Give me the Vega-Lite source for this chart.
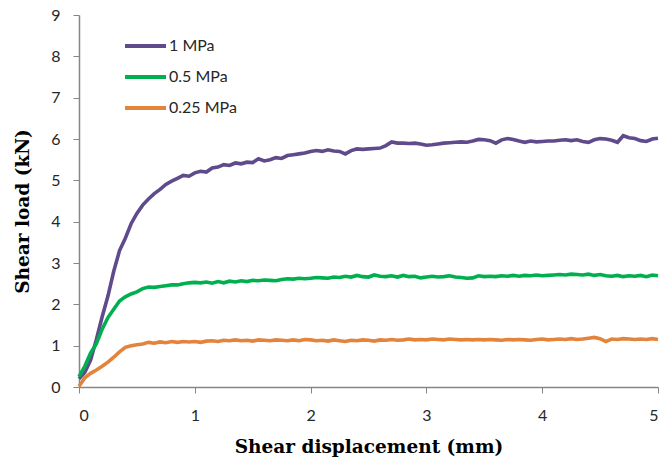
{
  "$schema": "https://vega.github.io/schema/vega-lite/v6.json",
  "width": 579,
  "height": 372,
  "autosize": {"type": "none"},
  "padding": {"left": 79, "top": 15, "right": 3, "bottom": 70},
  "background": "white",
  "config": {"view": {"stroke": null}},
  "data": {
    "values": [
      {"d": 0.0, "1 MPa": 0.2, "0.5 MPa": 0.25, "0.25 MPa": 0.02},
      {"d": 0.05, "1 MPa": 0.35, "0.5 MPa": 0.5, "0.25 MPa": 0.22},
      {"d": 0.1, "1 MPa": 0.65, "0.5 MPa": 0.82, "0.25 MPa": 0.33},
      {"d": 0.15, "1 MPa": 1.15, "0.5 MPa": 1.05, "0.25 MPa": 0.41},
      {"d": 0.2, "1 MPa": 1.7, "0.5 MPa": 1.4, "0.25 MPa": 0.5},
      {"d": 0.25, "1 MPa": 2.2, "0.5 MPa": 1.68, "0.25 MPa": 0.6},
      {"d": 0.3, "1 MPa": 2.8, "0.5 MPa": 1.88, "0.25 MPa": 0.72},
      {"d": 0.35, "1 MPa": 3.3, "0.5 MPa": 2.08, "0.25 MPa": 0.85},
      {"d": 0.4, "1 MPa": 3.6, "0.5 MPa": 2.18, "0.25 MPa": 0.96},
      {"d": 0.45, "1 MPa": 3.95, "0.5 MPa": 2.25, "0.25 MPa": 1.0},
      {"d": 0.5, "1 MPa": 4.2, "0.5 MPa": 2.3, "0.25 MPa": 1.02},
      {"d": 0.55, "1 MPa": 4.4, "0.5 MPa": 2.38, "0.25 MPa": 1.04},
      {"d": 0.6, "1 MPa": 4.55, "0.5 MPa": 2.42, "0.25 MPa": 1.08},
      {"d": 0.65, "1 MPa": 4.68, "0.5 MPa": 2.41, "0.25 MPa": 1.06},
      {"d": 0.7, "1 MPa": 4.78, "0.5 MPa": 2.43, "0.25 MPa": 1.09},
      {"d": 0.75, "1 MPa": 4.9, "0.5 MPa": 2.45, "0.25 MPa": 1.07},
      {"d": 0.8, "1 MPa": 4.98, "0.5 MPa": 2.47, "0.25 MPa": 1.1},
      {"d": 0.85, "1 MPa": 5.05, "0.5 MPa": 2.47, "0.25 MPa": 1.08},
      {"d": 0.9, "1 MPa": 5.12, "0.5 MPa": 2.5, "0.25 MPa": 1.1},
      {"d": 0.95, "1 MPa": 5.1, "0.5 MPa": 2.52, "0.25 MPa": 1.09},
      {"d": 1.0, "1 MPa": 5.18, "0.5 MPa": 2.53, "0.25 MPa": 1.1},
      {"d": 1.05, "1 MPa": 5.22, "0.5 MPa": 2.52, "0.25 MPa": 1.08},
      {"d": 1.1, "1 MPa": 5.2, "0.5 MPa": 2.54, "0.25 MPa": 1.11},
      {"d": 1.15, "1 MPa": 5.3, "0.5 MPa": 2.51, "0.25 MPa": 1.12},
      {"d": 1.2, "1 MPa": 5.32, "0.5 MPa": 2.55, "0.25 MPa": 1.1},
      {"d": 1.25, "1 MPa": 5.38, "0.5 MPa": 2.52, "0.25 MPa": 1.13},
      {"d": 1.3, "1 MPa": 5.36, "0.5 MPa": 2.56, "0.25 MPa": 1.12},
      {"d": 1.35, "1 MPa": 5.42, "0.5 MPa": 2.54, "0.25 MPa": 1.14},
      {"d": 1.4, "1 MPa": 5.4, "0.5 MPa": 2.57, "0.25 MPa": 1.12},
      {"d": 1.45, "1 MPa": 5.44, "0.5 MPa": 2.55, "0.25 MPa": 1.13},
      {"d": 1.5, "1 MPa": 5.43, "0.5 MPa": 2.58, "0.25 MPa": 1.11},
      {"d": 1.55, "1 MPa": 5.52, "0.5 MPa": 2.57, "0.25 MPa": 1.14},
      {"d": 1.6, "1 MPa": 5.47, "0.5 MPa": 2.59, "0.25 MPa": 1.13},
      {"d": 1.65, "1 MPa": 5.5, "0.5 MPa": 2.58, "0.25 MPa": 1.12},
      {"d": 1.7, "1 MPa": 5.55, "0.5 MPa": 2.57, "0.25 MPa": 1.14},
      {"d": 1.75, "1 MPa": 5.53, "0.5 MPa": 2.6, "0.25 MPa": 1.13},
      {"d": 1.8, "1 MPa": 5.6, "0.5 MPa": 2.62, "0.25 MPa": 1.12},
      {"d": 1.85, "1 MPa": 5.62, "0.5 MPa": 2.61, "0.25 MPa": 1.14},
      {"d": 1.9, "1 MPa": 5.64, "0.5 MPa": 2.63, "0.25 MPa": 1.12},
      {"d": 1.95, "1 MPa": 5.66, "0.5 MPa": 2.62, "0.25 MPa": 1.15},
      {"d": 2.0, "1 MPa": 5.7, "0.5 MPa": 2.63, "0.25 MPa": 1.14},
      {"d": 2.05, "1 MPa": 5.72, "0.5 MPa": 2.65, "0.25 MPa": 1.12},
      {"d": 2.1, "1 MPa": 5.7, "0.5 MPa": 2.64, "0.25 MPa": 1.13},
      {"d": 2.15, "1 MPa": 5.74, "0.5 MPa": 2.63, "0.25 MPa": 1.11},
      {"d": 2.2, "1 MPa": 5.71, "0.5 MPa": 2.66, "0.25 MPa": 1.14},
      {"d": 2.25, "1 MPa": 5.7, "0.5 MPa": 2.65, "0.25 MPa": 1.12},
      {"d": 2.3, "1 MPa": 5.64, "0.5 MPa": 2.68, "0.25 MPa": 1.1},
      {"d": 2.35, "1 MPa": 5.72, "0.5 MPa": 2.66, "0.25 MPa": 1.13},
      {"d": 2.4, "1 MPa": 5.76, "0.5 MPa": 2.7, "0.25 MPa": 1.12},
      {"d": 2.45, "1 MPa": 5.75, "0.5 MPa": 2.67, "0.25 MPa": 1.14},
      {"d": 2.5, "1 MPa": 5.76, "0.5 MPa": 2.66, "0.25 MPa": 1.13},
      {"d": 2.55, "1 MPa": 5.77, "0.5 MPa": 2.71, "0.25 MPa": 1.11},
      {"d": 2.6, "1 MPa": 5.78, "0.5 MPa": 2.68, "0.25 MPa": 1.14},
      {"d": 2.65, "1 MPa": 5.84, "0.5 MPa": 2.67, "0.25 MPa": 1.13},
      {"d": 2.7, "1 MPa": 5.93, "0.5 MPa": 2.69, "0.25 MPa": 1.15},
      {"d": 2.75, "1 MPa": 5.9, "0.5 MPa": 2.66, "0.25 MPa": 1.13},
      {"d": 2.8, "1 MPa": 5.9, "0.5 MPa": 2.7, "0.25 MPa": 1.14},
      {"d": 2.85, "1 MPa": 5.89, "0.5 MPa": 2.67, "0.25 MPa": 1.16},
      {"d": 2.9, "1 MPa": 5.9, "0.5 MPa": 2.68, "0.25 MPa": 1.14},
      {"d": 2.95, "1 MPa": 5.88, "0.5 MPa": 2.64, "0.25 MPa": 1.15},
      {"d": 3.0, "1 MPa": 5.85, "0.5 MPa": 2.66, "0.25 MPa": 1.14},
      {"d": 3.05, "1 MPa": 5.86, "0.5 MPa": 2.68, "0.25 MPa": 1.16},
      {"d": 3.1, "1 MPa": 5.88, "0.5 MPa": 2.66, "0.25 MPa": 1.15},
      {"d": 3.15, "1 MPa": 5.9, "0.5 MPa": 2.67, "0.25 MPa": 1.14},
      {"d": 3.2, "1 MPa": 5.91, "0.5 MPa": 2.69, "0.25 MPa": 1.16},
      {"d": 3.25, "1 MPa": 5.92, "0.5 MPa": 2.66, "0.25 MPa": 1.15},
      {"d": 3.3, "1 MPa": 5.93, "0.5 MPa": 2.65, "0.25 MPa": 1.14},
      {"d": 3.35, "1 MPa": 5.92, "0.5 MPa": 2.63, "0.25 MPa": 1.15},
      {"d": 3.4, "1 MPa": 5.95, "0.5 MPa": 2.64, "0.25 MPa": 1.14},
      {"d": 3.45, "1 MPa": 5.99, "0.5 MPa": 2.69, "0.25 MPa": 1.15},
      {"d": 3.5, "1 MPa": 5.98, "0.5 MPa": 2.67, "0.25 MPa": 1.14},
      {"d": 3.55, "1 MPa": 5.96, "0.5 MPa": 2.68, "0.25 MPa": 1.15},
      {"d": 3.6, "1 MPa": 5.9, "0.5 MPa": 2.67, "0.25 MPa": 1.14},
      {"d": 3.65, "1 MPa": 5.98, "0.5 MPa": 2.69, "0.25 MPa": 1.13},
      {"d": 3.7, "1 MPa": 6.01, "0.5 MPa": 2.68, "0.25 MPa": 1.15},
      {"d": 3.75, "1 MPa": 5.99, "0.5 MPa": 2.7, "0.25 MPa": 1.14},
      {"d": 3.8, "1 MPa": 5.95, "0.5 MPa": 2.68, "0.25 MPa": 1.15},
      {"d": 3.85, "1 MPa": 5.92, "0.5 MPa": 2.7, "0.25 MPa": 1.14},
      {"d": 3.9, "1 MPa": 5.95, "0.5 MPa": 2.69, "0.25 MPa": 1.13},
      {"d": 3.95, "1 MPa": 5.93, "0.5 MPa": 2.71, "0.25 MPa": 1.15},
      {"d": 4.0, "1 MPa": 5.94, "0.5 MPa": 2.69, "0.25 MPa": 1.16},
      {"d": 4.05, "1 MPa": 5.95, "0.5 MPa": 2.7, "0.25 MPa": 1.14},
      {"d": 4.1, "1 MPa": 5.95, "0.5 MPa": 2.71, "0.25 MPa": 1.15},
      {"d": 4.15, "1 MPa": 5.97, "0.5 MPa": 2.72, "0.25 MPa": 1.16},
      {"d": 4.2, "1 MPa": 5.98, "0.5 MPa": 2.71, "0.25 MPa": 1.15},
      {"d": 4.25, "1 MPa": 5.96, "0.5 MPa": 2.73, "0.25 MPa": 1.17},
      {"d": 4.3, "1 MPa": 5.98, "0.5 MPa": 2.72, "0.25 MPa": 1.15},
      {"d": 4.35, "1 MPa": 5.94, "0.5 MPa": 2.71, "0.25 MPa": 1.16},
      {"d": 4.4, "1 MPa": 5.92, "0.5 MPa": 2.73, "0.25 MPa": 1.18},
      {"d": 4.45, "1 MPa": 5.98, "0.5 MPa": 2.7, "0.25 MPa": 1.2},
      {"d": 4.5, "1 MPa": 6.01, "0.5 MPa": 2.72, "0.25 MPa": 1.17},
      {"d": 4.55, "1 MPa": 6.0, "0.5 MPa": 2.69, "0.25 MPa": 1.1},
      {"d": 4.6, "1 MPa": 5.97, "0.5 MPa": 2.68, "0.25 MPa": 1.16},
      {"d": 4.65, "1 MPa": 5.92, "0.5 MPa": 2.7, "0.25 MPa": 1.15},
      {"d": 4.7, "1 MPa": 6.08, "0.5 MPa": 2.67, "0.25 MPa": 1.17},
      {"d": 4.75, "1 MPa": 6.03, "0.5 MPa": 2.69, "0.25 MPa": 1.16},
      {"d": 4.8, "1 MPa": 6.01, "0.5 MPa": 2.68, "0.25 MPa": 1.15},
      {"d": 4.85, "1 MPa": 5.96, "0.5 MPa": 2.7, "0.25 MPa": 1.16},
      {"d": 4.9, "1 MPa": 5.94, "0.5 MPa": 2.67, "0.25 MPa": 1.15},
      {"d": 4.95, "1 MPa": 6.0, "0.5 MPa": 2.71, "0.25 MPa": 1.17},
      {"d": 5.0, "1 MPa": 6.02, "0.5 MPa": 2.69, "0.25 MPa": 1.15}
    ]
  },
  "transform": [
    {"fold": ["1 MPa", "0\\.5 MPa", "0\\.25 MPa"], "as": ["series", "load"]}
  ],
  "mark": {"type": "line", "strokeWidth": 3.6, "interpolate": "linear"},
  "encoding": {
    "x": {
      "field": "d",
      "type": "quantitative",
      "scale": {"domain": [0, 5], "nice": false},
      "axis": {
        "title": "Shear displacement (mm)",
        "values": [0, 1, 2, 3, 4, 5],
        "grid": false,
        "domainColor": "#868686",
        "domainWidth": 1.5,
        "tickColor": "#868686",
        "tickSize": 6,
        "labelFont": "Lato",
        "labelFontSize": 16,
        "labelColor": "#262626",
        "labelPadding": 14,
        "titleFont": "DejaVu Serif",
        "titleFontSize": 18.5,
        "titleFontWeight": "bold",
        "titleColor": "#000000",
        "titlePadding": 14
      }
    },
    "y": {
      "field": "load",
      "type": "quantitative",
      "scale": {"domain": [0, 9], "nice": false},
      "axis": {
        "title": "Shear load (kN)",
        "values": [0, 1, 2, 3, 4, 5, 6, 7, 8, 9],
        "grid": false,
        "domainColor": "#868686",
        "domainWidth": 1.5,
        "tickColor": "#868686",
        "tickSize": 6,
        "labelFont": "Lato",
        "labelFontSize": 16,
        "labelColor": "#262626",
        "labelPadding": 13,
        "titleFont": "DejaVu Serif",
        "titleFontSize": 18.5,
        "titleFontWeight": "bold",
        "titleColor": "#000000",
        "titlePadding": 18,
        "titleY": 196
      }
    },
    "color": {
      "field": "series",
      "type": "nominal",
      "sort": ["1 MPa", "0.5 MPa", "0.25 MPa"],
      "scale": {
        "domain": ["1 MPa", "0.5 MPa", "0.25 MPa"],
        "range": ["#5F4B8B", "#00B050", "#E2843C"]
      },
      "legend": {
        "title": null,
        "orient": "none",
        "legendX": 44,
        "legendY": 18,
        "symbolType": "stroke",
        "symbolSize": 1681,
        "symbolStrokeWidth": 4,
        "labelFont": "Lato",
        "labelFontSize": 16,
        "labelColor": "#262626",
        "labelOffset": 1,
        "clipHeight": 26,
        "rowPadding": 5,
        "padding": 0
      }
    }
  }
}
